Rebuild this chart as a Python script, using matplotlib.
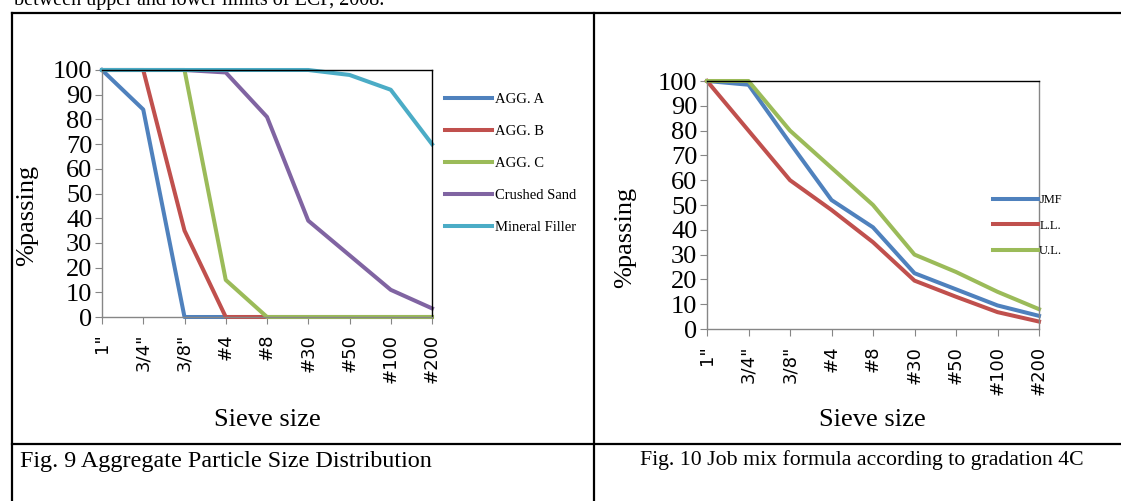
import numpy as np
import matplotlib
matplotlib.use('Agg')
import matplotlib.pyplot as plt
from matplotlib.lines import Line2D

W, H = 1121, 501

sieves = ['1"', '3/4"', '3/8"', '#4', '#8', '#30', '#50', '#100', '#200']

# Fig. 9 aggregate gradation (% passing)
agg_a = [100, 84, 0, 0, 0, 0, 0, 0, 0]
agg_b = [100, 100, 35, 0, 0, 0, 0, 0, 0]
agg_c = [100, 100, 100, 15, 0, 0, 0, 0, 0]
crushed_sand = [100, 100, 100, 99, 81, 39, 25, 11, 3.5]
mineral_filler = [100, 100, 100, 100, 100, 100, 98, 92, 70]
agg_labels = ['AGG. A', 'AGG. B', 'AGG. C', 'Crushed Sand', 'Mineral Filler']

# Fig. 10 job mix formula and limits
jmf = [100, 98.5, 75, 52, 41, 22.5, 16, 9.5, 5.3]
lower_lim = [100, 80, 60, 48, 35, 19.5, 13, 6.8, 3]
upper_lim = [100, 100, 80, 65, 50, 30, 23, 15, 8]
mix_labels = ['JMF', 'L.L.', 'U.L.']

colors5 = ['#4F81BD', '#C0504D', '#9BBB59', '#8064A2', '#4BACC6']
colors3 = ['#4F81BD', '#C0504D', '#9BBB59']

serif = 'Liberation Serif'
sans = 'DejaVu Sans'
grey = '#868686'


def px(x0, y0, x1, y1):
    return [x0 / W, 1 - y1 / H, (x1 - x0) / W, (y1 - y0) / H]


def style_axes(ax, right_col):
    ax.set_xlim(0, len(sieves) - 1)
    ax.set_ylim(0, 100)
    ax.set_yticks(np.arange(0, 101, 10))
    ax.set_xticks(np.arange(len(sieves)))
    ax.set_xticklabels(sieves, rotation=90, fontfamily=sans, fontsize=13)
    for t in ax.get_yticklabels():
        t.set_fontfamily(serif)
        t.set_fontsize(19)
    ax.tick_params(axis='y', length=5, color=grey, pad=2)
    ax.tick_params(axis='x', length=5, color=grey, pad=7)
    ax.spines['left'].set_color(grey)
    ax.spines['bottom'].set_color(grey)
    ax.spines['top'].set_color('black')
    ax.spines['right'].set_color(right_col)
    for s in ax.spines.values():
        s.set_linewidth(1.0)


fig = plt.figure(figsize=(W / 100, H / 100), dpi=100)

# table lines of the page
tl = dict(color='black', linewidth=1.6, transform=fig.transFigure)
fig.add_artist(Line2D([12 / W, 1], [1 - 13 / H, 1 - 13 / H], **tl))
fig.add_artist(Line2D([12 / W, 12 / W], [0, 1 - 13 / H], **tl))
fig.add_artist(Line2D([594 / W, 594 / W], [0, 1 - 13 / H], **tl))
fig.add_artist(Line2D([12 / W, 1], [1 - 444 / H, 1 - 444 / H], **tl))

fig.text(14 / W, 1 - 5 / H, 'between upper and lower limits of ECP, 2008.',
         fontfamily=serif, fontsize=14.5, va='baseline', ha='left')

# left chart
ax1 = fig.add_axes(px(102, 70, 432, 317))
x = np.arange(len(sieves))
for vals, c, lab in zip([agg_a, agg_b, agg_c, crushed_sand, mineral_filler], colors5, agg_labels):
    ax1.plot(x, vals, color=c, linewidth=2.9, label=lab, clip_on=False)
style_axes(ax1, 'black')
ax1.legend(loc='upper left', bbox_to_anchor=(445 / W, 1 - 93 / H), bbox_transform=fig.transFigure,
           frameon=False, prop={'family': serif, 'size': 10.5}, handlelength=3.2,
           handletextpad=0.25, labelspacing=1.28, borderpad=0, borderaxespad=0)

fig.text(27 / W, 1 - 215 / H, '%passing', rotation=90, fontfamily=serif, fontsize=19,
         ha='center', va='center')
fig.text(267 / W, 1 - 420 / H, 'Sieve size', fontfamily=serif, fontsize=19,
         ha='center', va='center')

# right chart
ax2 = fig.add_axes(px(707, 81, 1039, 329))
for vals, c, lab in zip([jmf, lower_lim, upper_lim], colors3, mix_labels):
    ax2.plot(x, vals, color=c, linewidth=2.9, label=lab, clip_on=False)
style_axes(ax2, grey)
ax2.legend(loc='upper left', bbox_to_anchor=(993 / W, 1 - 194 / H), bbox_transform=fig.transFigure,
           frameon=False, prop={'family': serif, 'size': 9}, handlelength=3.6,
           handletextpad=0.1, labelspacing=1.1, borderpad=0, borderaxespad=0)

fig.text(625 / W, 1 - 237 / H, '%passing', rotation=90, fontfamily=serif, fontsize=19,
         ha='center', va='center')
fig.text(872 / W, 1 - 420 / H, 'Sieve size', fontfamily=serif, fontsize=19,
         ha='center', va='center')

# captions
fig.text(20 / W, 1 - 461 / H, 'Fig. 9 Aggregate Particle Size Distribution',
         fontfamily=serif, fontsize=17.4, ha='left', va='center')
fig.text(640 / W, 1 - 460 / H, 'Fig. 10 Job mix formula according to gradation 4C',
         fontfamily=serif, fontsize=15.7, ha='left', va='center')

fig.savefig('out.png', dpi=100)
